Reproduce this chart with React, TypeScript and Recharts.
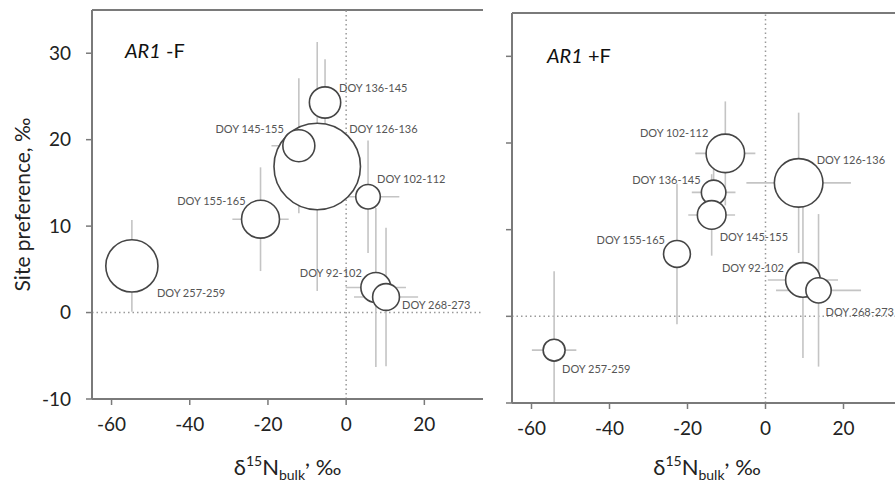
import React from 'react';
import { ScatterChart, Scatter, XAxis, YAxis, ZAxis, ErrorBar, ReferenceLine, Label } from 'recharts';

// ---- data ----
const periods = ['DOY 92-102', 'DOY 102-112', 'DOY 126-136', 'DOY 136-145', 'DOY 145-155', 'DOY 155-165', 'DOY 257-259', 'DOY 268-273'];

// AR1 -F (no fertiliser)
const noFertBulk = [7.6, 5.6, -7.4, -5.4, -12.1, -21.9, -54.8, 10.2];
const noFertSP = [2.9, 13.4, 16.9, 24.3, 19.3, 10.8, 5.4, 1.8];
const noFertBulkErr = [7.7, 8, 5, 2, 7, 7.2, 3, 8.2];
const noFertSPErr: (number | number[])[] = [9.2, 6.5, 14.4, 5, 7.8, 6, 5.3, 8];
const noFertFlux = [2.25, 1.5, 18.7, 2.45, 2.56, 3.6, 6.8, 1.8];

// AR1 +F (fertilised)
const fertBulk = [9.6, -10.3, 8.5, -13.3, -13.8, -22.7, -54.2, 13.6];
const fertSP = [4.2, 18.8, 15.4, 14.3, 11.7, 7.2, -3.9, 3.0];
const fertBulkErr = [9, 7.7, 13.4, 5.6, 6, 3.5, 5.7, 10.9];
const fertSPErr: (number | number[])[] = [9, 6, 8.1, 3, 4.7, 8.1, [6.1, 9.1], 8.8];
const fertFlux = [3.0, 3.7, 5.9, 1.5, 2.05, 1.8, 1.2, 1.6];

const xTicks = [-60, -40, -20, 0, 20];
const yTicks = [-10, 0, 10, 20, 30];
const xDomain: [number, number] = [-65, 35];
const yDomain: [number, number] = [-10, 35];

// ---- layout / styling (not data) ----
const FONT = "Lato, 'Open Sans', sans-serif";
const AXIS = '#7a7a7a';
const ERR = '#c4c4c4';

type Place = [string, number, number];
const leftPlace: Record<string, Place> = {
  'DOY 92-102': ['end', -14, -15],
  'DOY 102-112': ['start', 9, -18],
  'DOY 126-136': ['start', 32, -38],
  'DOY 136-145': ['start', 14, -15],
  'DOY 145-155': ['end', -15, -17],
  'DOY 155-165': ['end', -15, -19],
  'DOY 257-259': ['start', 25, 27],
  'DOY 268-273': ['start', 16, 8],
};
const rightPlace: Record<string, Place> = {
  'DOY 92-102': ['end', -19, -12],
  'DOY 102-112': ['end', -17, -21],
  'DOY 126-136': ['start', 18, -23],
  'DOY 136-145': ['end', -13, -13],
  'DOY 145-155': ['start', 8, 22],
  'DOY 155-165': ['end', -12, -14],
  'DOY 257-259': ['start', 8, 18],
  'DOY 268-273': ['start', 7, 21],
};

function build(x: number[], y: number[], ex: number[], ey: (number | number[])[], z: number[]) {
  return periods.map((name, i) => ({ name, x: x[i], y: y[i], ex: ex[i], ey: ey[i], z: z[i] }));
}

const noFertData = build(noFertBulk, noFertSP, noFertBulkErr, noFertSPErr, noFertFlux);
const fertData = build(fertBulk, fertSP, fertBulkErr, fertSPErr, fertFlux);

const makeBubble = (place: Record<string, Place>) => (props: any) => {
  const { cx, cy, size, payload } = props;
  if (cx == null || cy == null) return null;
  const r = Math.sqrt(Math.max(size || 0, 0) / Math.PI);
  const p = place[payload.name] || ['start', 0, 0];
  return (
    <g>
      <circle cx={cx} cy={cy} r={r} fill="#fff" stroke="#454545" strokeWidth={1.6} />
      <text x={cx + p[1]} y={cy + p[2]} textAnchor={p[0] as any} dominantBaseline="central" fontSize={11} fill="#555" fontFamily={FONT}>
        {payload.name}
      </text>
    </g>
  );
};

const XLabel = (dyBase: number) => (props: any) => {
  const vb = props.viewBox || {};
  const cx = vb.x + vb.width / 2;
  return (
    <text x={cx} y={vb.y + dyBase} textAnchor="middle" fontSize={22} fill="#222" fontFamily={FONT}>
      δ<tspan dy={-9} fontSize={14}>15</tspan>
      <tspan dy={9}>N</tspan>
      <tspan dy={5} fontSize={14}>bulk</tspan>
      <tspan dy={-14}>,</tspan>
      <tspan dy={9}> ‰</tspan>
    </text>
  );
};

const YLabel = (props: any) => {
  const vb = props.viewBox || {};
  const x = vb.x + 21;
  const y = vb.y + vb.height / 2;
  return (
    <text x={x} y={y} transform={`rotate(-90 ${x} ${y})`} textAnchor="middle" dominantBaseline="central" fontSize={21} fill="#222" fontFamily={FONT}>
      Site preference, ‰
    </text>
  );
};

const NoTick = () => <g />;

function Panel(props: { data: any[]; place: Record<string, Place>; showYLabels: boolean; width: number; margin: any; yWidth: number; xHeight: number; xLabelDy: number; showRight: boolean }) {
  const { data, place, showYLabels, width, margin, yWidth, xHeight, xLabelDy, showRight } = props;
  const shape = makeBubble(place);
  return (
    <ScatterChart width={width} height={488} margin={margin}>
      <XAxis
        type="number"
        dataKey="x"
        domain={xDomain}
        ticks={xTicks}
        allowDataOverflow
        height={xHeight}
        tickSize={6}
        tickMargin={13}
        axisLine={{ stroke: AXIS, strokeWidth: 2 }}
        tickLine={{ stroke: AXIS, strokeWidth: 1.5 }}
        tick={{ fontSize: 19, fill: '#222', fontFamily: FONT }}
      >
        <Label content={XLabel(xLabelDy)} />
      </XAxis>
      <YAxis
        type="number"
        dataKey="y"
        domain={yDomain}
        ticks={yTicks}
        allowDataOverflow
        width={yWidth}
        tickSize={6}
        tickMargin={15}
        axisLine={{ stroke: AXIS, strokeWidth: 2 }}
        tickLine={{ stroke: AXIS, strokeWidth: 1.5 }}
        tick={showYLabels ? { fontSize: 19, fill: '#222', fontFamily: FONT } : NoTick}
      >
        {showYLabels ? <Label content={YLabel} /> : null}
      </YAxis>
      {showRight ? (
        <YAxis yAxisId="right" orientation="right" type="number" domain={yDomain} width={0} tick={false} tickLine={false} axisLine={{ stroke: AXIS, strokeWidth: 2 }} />
      ) : null}
      <ZAxis type="number" dataKey="z" domain={[0, 20]} range={[0, 2000 * Math.PI]} />
      <ReferenceLine y={yDomain[1]} stroke={AXIS} strokeWidth={2} />
      <ReferenceLine x={0} stroke="#9a9a9a" strokeWidth={1.5} strokeDasharray="1.5 3" />
      <ReferenceLine y={0} stroke="#9a9a9a" strokeWidth={1.5} strokeDasharray="1.5 3" />
      {data.map((d) => (
        <Scatter key={d.name} data={[d]} shape={shape} isAnimationActive={false}>
          <ErrorBar dataKey="ex" direction="x" width={0} stroke={ERR} strokeWidth={1.6} isAnimationActive={false} />
          <ErrorBar dataKey="ey" direction="y" width={0} stroke={ERR} strokeWidth={1.6} isAnimationActive={false} />
        </Scatter>
      ))}
    </ScatterChart>
  );
}

const titleStyle: React.CSSProperties = {
  position: 'absolute',
  fontFamily: FONT,
  fontSize: 20,
  color: '#111',
  lineHeight: '20px',
  whiteSpace: 'nowrap',
};

export default function App() {
  return (
    <div style={{ position: 'absolute', left: 0, top: 0, width: 895, height: 488, overflow: 'hidden', background: '#fff' }}>
      <div style={{ position: 'absolute', left: 0, top: 0 }}>
        <Panel
          data={noFertData}
          place={leftPlace}
          showYLabels
          width={490}
          margin={{ top: 10, right: 7, bottom: 0, left: 0 }}
          yWidth={92}
          xHeight={89}
          xLabelDy={76}
          showRight
        />
      </div>
      <div style={{ position: 'absolute', left: 490, top: 0 }}>
        <Panel
          data={fertData}
          place={rightPlace}
          showYLabels={false}
          width={420}
          margin={{ top: 13, right: 8, bottom: 0, left: 0 }}
          yWidth={22}
          xHeight={85}
          xLabelDy={72}
          showRight={false}
        />
      </div>
      <div style={{ ...titleStyle, left: 125, top: 40 }}>
        <i>AR1</i> -F
      </div>
      <div style={{ ...titleStyle, left: 547, top: 45 }}>
        <i>AR1</i> +F
      </div>
    </div>
  );
}
